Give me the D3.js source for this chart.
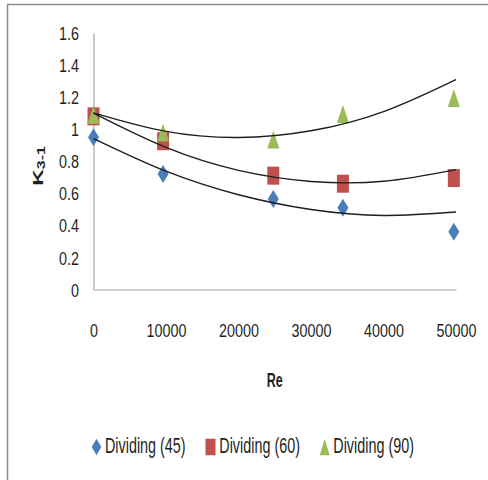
<!DOCTYPE html>
<html>
<head>
<meta charset="utf-8">
<script src="https://cdn.jsdelivr.net/npm/d3@7"></script>
<style>
  html, body { margin: 0; padding: 0; background: #fff; }
  svg { display: block; }
  text { font-family: "Liberation Sans", Arial, sans-serif; fill: #1f1f1f; }
</style>
</head>
<body>
<svg id="chart" width="488" height="480"></svg>
<script>
// Reynolds number of each measurement
const reValues = [0, 9600, 24800, 34400, 49700];
// Loss coefficient K3-1 for each dividing angle
const k45 = [0.95, 0.72, 0.565, 0.51, 0.36];
const k60 = [1.08, 0.925, 0.71, 0.66, 0.695];
const k90 = [1.09, 0.98, 0.935, 1.095, 1.195];
// polynomial trendline values at the Re grid below
const trendRe = [0, 10000, 20000, 30000, 40000, 50000];
const trend45 = [0.942, 0.738, 0.591, 0.499, 0.462, 0.483];
const trend60 = [1.10, 0.886, 0.743, 0.674, 0.675, 0.748];
const trend90 = [1.102, 0.986, 0.948, 0.99, 1.11, 1.31];
const seriesNames = ["Dividing (45)", "Dividing (60)", "Dividing (90)"];
const xTickValues = [0, 10000, 20000, 30000, 40000, 50000];
const xTickLabels = ["0", "10000", "20000", "30000", "40000", "50000"];
const yTickValues = [0, 0.2, 0.4, 0.6, 0.8, 1, 1.2, 1.4, 1.6];
const yTickLabels = ["0", "0.2", "0.4", "0.6", "0.8", "1", "1.2", "1.4", "1.6"];

const colors = ["#4a7ebb", "#c0504d", "#9bbb59"];
const shapes = ["diamond", "square", "triangle"];
const series = [k45, k60, k90];
const trends = [trend45, trend60, trend90];

const svg = d3.select("#chart");

// outer frame of the chart area
svg.append("rect")
  .attr("x", 7.5).attr("y", 4.5)
  .attr("width", 490).attr("height", 490)
  .attr("fill", "#fff")
  .attr("stroke", "#8a8a8a").attr("stroke-width", 1.5);

const x = d3.scaleLinear().domain([0, 50000]).range([93.5, 456]);
const y = d3.scaleLinear().domain([0, 1.6]).range([289.5, 33]);

// axes (labels use a condensed look via horizontal scaling)
const xAxis = d3.axisBottom(x).tickValues(xTickValues)
  .tickFormat((d, i) => xTickLabels[i]).tickSize(0);
const yAxis = d3.axisLeft(y).tickValues(yTickValues)
  .tickFormat((d, i) => yTickLabels[i]).tickSize(0);

const gx = svg.append("g").attr("transform", `translate(0,${y(0)})`).call(xAxis);
const gy = svg.append("g").attr("transform", `translate(${x(0)},0)`).call(yAxis);
[gx, gy].forEach(g => {
  g.select(".domain").attr("stroke", "#a6a6a6").attr("stroke-width", 1.2);
  g.selectAll("text")
    .style("font-size", "18.6px").attr("fill", "#1f1f1f")
    .attr("x", 0).attr("y", 0).attr("dy", null);
});
gx.selectAll("text").attr("text-anchor", "middle")
  .attr("transform", "translate(0,47.8) scale(0.77,1)");
gy.selectAll("text").attr("text-anchor", "end")
  .attr("transform", "translate(-14.5,6.6) scale(0.77,1)");

// axis titles
svg.append("text")
  .attr("transform", "translate(274.7,386.7) scale(0.625,1)")
  .attr("text-anchor", "middle")
  .style("font-size", "20px").style("font-weight", "bold")
  .text("Re");

const yTitle = svg.append("text")
  .attr("transform", "translate(43,166) scale(0.65,1) rotate(-90)")
  .attr("text-anchor", "middle")
  .style("font-size", "23px").style("font-weight", "bold");
yTitle.append("tspan").text("K");
yTitle.append("tspan").attr("dy", 3).style("font-size", "16px").text("3-1");

// markers
function drawMarker(g, shape, cx, cy, color, w, h) {
  if (shape === "diamond") {
    g.append("path")
      .attr("d", `M${cx},${cy - h / 2}L${cx + w / 2},${cy}L${cx},${cy + h / 2}L${cx - w / 2},${cy}Z`)
      .attr("fill", color);
  } else if (shape === "square") {
    g.append("rect").attr("x", cx - w / 2).attr("y", cy - h / 2)
      .attr("width", w).attr("height", h).attr("fill", color);
  } else {
    g.append("path")
      .attr("d", `M${cx},${cy - h / 2}L${cx + w / 2},${cy + h / 2}L${cx - w / 2},${cy + h / 2}Z`)
      .attr("fill", color);
  }
}

const markLayer = svg.append("g");
series.forEach((vals, si) => {
  vals.forEach((v, i) => drawMarker(markLayer, shapes[si], x(reValues[i]), y(v), colors[si],
    si === 0 ? 11 : 12, 18));
});

// trendlines drawn over markers
const line = d3.line().x((d, i) => x(trendRe[i])).y(d => y(d)).curve(d3.curveNatural);
const trendLayer = svg.append("g");
trends.forEach(vals => {
  trendLayer.append("path")
    .datum(vals)
    .attr("d", line)
    .attr("fill", "none")
    .attr("stroke", "#1e1e1e")
    .attr("stroke-width", 1.4);
});

// legend
const legendMarkX = [96.5, 210.5, 324.7];
const legendTextX = [105, 219.3, 333.3];
const legend = svg.append("g");
seriesNames.forEach((name, i) => {
  drawMarker(legend, shapes[i], legendMarkX[i], 447, colors[i], i === 0 ? 9.5 : 10, 16.5);
  legend.append("text")
    .attr("transform", `translate(${legendTextX[i]},453.3) scale(0.656,1)`)
    .style("font-size", "21.9px")
    .text(name);
});
</script>
</body>
</html>
